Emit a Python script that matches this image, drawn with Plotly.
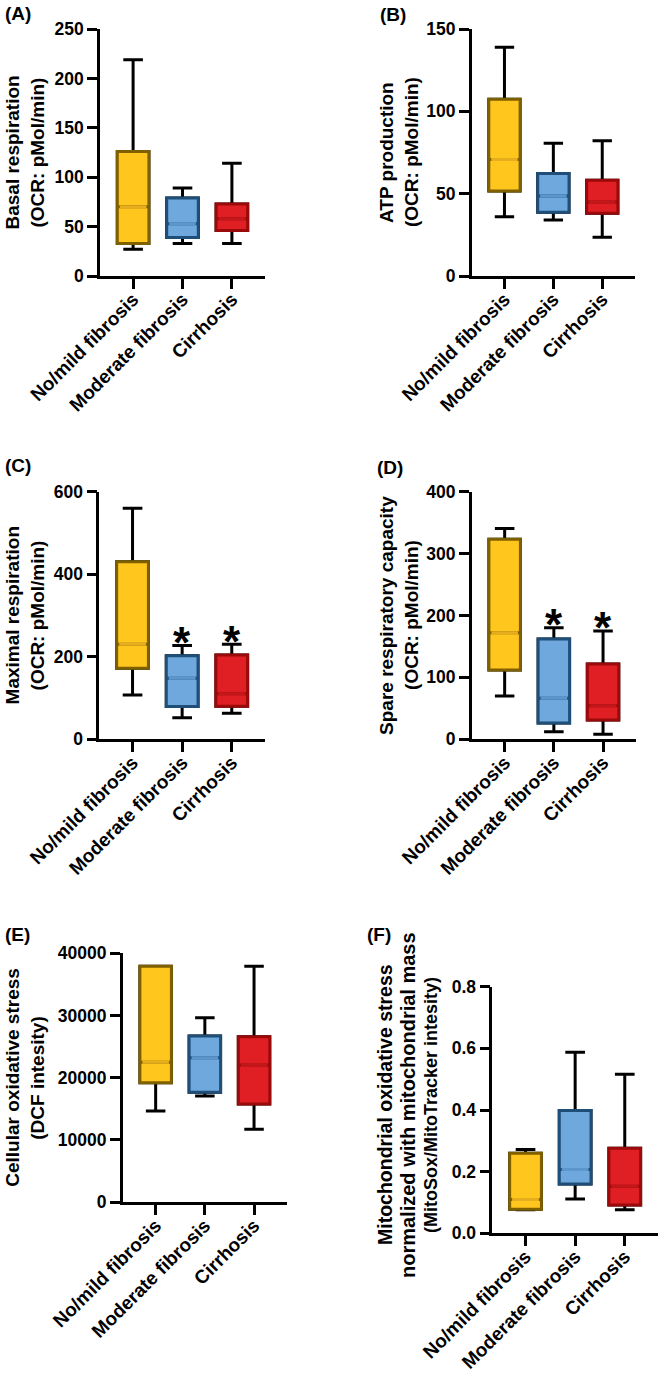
import plotly.graph_objects as go

W, H = 661, 1374

groups = ["No/mild fibrosis", "Moderate fibrosis", "Cirrhosis"]

# (A) Basal respiration
basal_low = [27, 33, 33]
basal_q1 = [33, 39, 46]
basal_med = [70, 53, 58]
basal_q3 = [126, 79, 73]
basal_up = [219, 89, 114]

# (B) ATP production
atp_low = [36, 34, 23.5]
atp_q1 = [51.6, 38.7, 38.1]
atp_med = [70.8, 48.6, 45]
atp_q3 = [107.3, 62.3, 58.1]
atp_up = [138.9, 80.6, 82.2]

# (C) Maximal respiration
max_low = [107, 52, 63]
max_q1 = [172, 79, 80]
max_med = [230, 148, 110]
max_q3 = [430, 202, 204]
max_up = [560, 227, 230]

# (D) Spare respiratory capacity
spare_low = [70, 12, 8]
spare_q1 = [112, 26, 31]
spare_med = [172, 66, 54]
spare_q3 = [323, 162, 121.5]
spare_up = [340.7, 180, 175]

# (E) Cellular oxidative stress
dcf_low = [14660, 17070, 11710]
dcf_q1 = [19210, 17660, 15790]
dcf_med = [22480, 23230, 22050]
dcf_q3 = [37900, 26710, 26600]
dcf_up = [37900, 29650, 37900]

# (F) Mitochondrial oxidative stress
mito_low = [0.076, 0.111, 0.076]
mito_q1 = [0.078, 0.160, 0.092]
mito_med = [0.110, 0.207, 0.153]
mito_q3 = [0.260, 0.398, 0.276]
mito_up = [0.272, 0.587, 0.516]

fills = ["#FFC61E", "#6FA8DC", "#E01F24"]
edges = ["#7F6000", "#1F4E79", "#9A0A0A"]
medcols = ["#E6AE1F", "#5B96CC", "#C3171C"]

BOX_W = 0.64
WHISK_W = 0.62
LW = 3

panels = [
    dict(data=(basal_low, basal_q1, basal_med, basal_q3, basal_up), yr=[0, 250], dtick=50, fmt="d",
         xpx=(100, 265), ypx=(29, 276), label="(A)", lab=(18, 14), tyc=None,
         titles=[("Basal respiration", 12, 19), ("(OCR: pMol/min)", 37, 19)], stars=[]),
    dict(data=(atp_low, atp_q1, atp_med, atp_q3, atp_up), yr=[0, 150], dtick=50, fmt="d",
         xpx=(471.7, 635), ypx=(29, 276), label="(B)", lab=(393, 15), tyc=None,
         titles=[("ATP production", 386.5, 19), ("(OCR: pMol/min)", 411.5, 19)], stars=[]),
    dict(data=(max_low, max_q1, max_med, max_q3, max_up), yr=[0, 600], dtick=200, fmt="d",
         xpx=(99.3, 265), ypx=(491.7, 739.2), label="(C)", lab=(18, 466), tyc=None,
         titles=[("Maximal respiration", 12, 19), ("(OCR: pMol/min)", 37, 19)], stars=[1, 2]),
    dict(data=(spare_low, spare_q1, spare_med, spare_q3, spare_up), yr=[0, 400], dtick=100, fmt="d",
         xpx=(471.7, 636), ypx=(491.7, 739.2), label="(D)", lab=(390, 467), tyc=None,
         titles=[("Spare respiratory capacity", 386.5, 19), ("(OCR: pMol/min)", 411.5, 19)], stars=[1, 2]),
    dict(data=(dcf_low, dcf_q1, dcf_med, dcf_q3, dcf_up), yr=[0, 40000], dtick=10000, fmt="d",
         xpx=(122.7, 287), ypx=(953.3, 1202.2), label="(E)", lab=(17.5, 934), tyc=None,
         titles=[("Cellular oxidative stress", 13, 19), ("(DCF intesity)", 38, 19)], stars=[]),
    dict(data=(mito_low, mito_q1, mito_med, mito_q3, mito_up), yr=[0, 0.8], dtick=0.2, fmt=".1f",
         xpx=(492.3, 658), ypx=(986.7, 1233.3), label="(F)", lab=(378.5, 934), tyc=1105,
         titles=[("Mitochondrial oxidative stress", 385, 19.5),
                 ("normalized with mitochondrial mass", 408, 20),
                 ("(MitoSox/MitoTracker intesity)", 431, 18)], stars=[]),
]

FONT = "Liberation Sans, Arial, sans-serif"

fig = go.Figure()
annotations = []
layout_axes = {}

for i, p in enumerate(panels):
    n = i + 1
    xa = "x" if n == 1 else f"x{n}"
    ya = "y" if n == 1 else f"y{n}"
    low, q1, med, q3, up = p["data"]
    pos = list(range(len(groups)))
    for g in pos:
        # whiskers (black)
        fig.add_trace(go.Box(
            x=[g], q1=[q1[g]], median=[med[g]], q3=[q3[g]],
            lowerfence=[low[g]], upperfence=[up[g]],
            width=BOX_W, whiskerwidth=WHISK_W,
            line=dict(color="black", width=LW), fillcolor="black",
            xaxis=xa, yaxis=ya, showlegend=False, hoverinfo="skip", boxpoints=False))
        # coloured box
        fig.add_trace(go.Box(
            x=[g], q1=[q1[g]], median=[med[g]], q3=[q3[g]],
            lowerfence=[q1[g]], upperfence=[q3[g]],
            width=BOX_W, whiskerwidth=WHISK_W,
            line=dict(color=edges[g], width=LW), fillcolor=fills[g],
            xaxis=xa, yaxis=ya, showlegend=False, hoverinfo="skip", boxpoints=False))
        # median line
        hw = BOX_W / 2 - 0.05
        fig.add_trace(go.Scatter(
            x=[g - hw, g + hw], y=[med[g], med[g]], mode="lines",
            line=dict(color=medcols[g], width=3),
            xaxis=xa, yaxis=ya, showlegend=False, hoverinfo="skip"))

    x0, x1 = p["xpx"]
    y0, y1 = p["ypx"]
    axis_common = dict(showline=True, linecolor="black", linewidth=2.6, ticks="outside",
                       ticklen=10, tickwidth=2.6, tickcolor="black", showgrid=False,
                       zeroline=False, automargin=False)
    layout_axes["xaxis" if n == 1 else f"xaxis{n}"] = dict(
        domain=[x0 / W, x1 / W], anchor=ya, range=[-0.67, 2.67],
        tickmode="array", tickvals=pos, ticktext=groups, tickangle=-45,
        ticklabelstandoff=-8,
        tickfont=dict(family=FONT, size=19, color="black", weight="bold"),
        **axis_common)
    layout_axes["yaxis" if n == 1 else f"yaxis{n}"] = dict(
        domain=[1 - y1 / H, 1 - y0 / H], anchor=xa, range=p["yr"], dtick=p["dtick"],
        tick0=0, tickformat=p["fmt"],
        tickfont=dict(family=FONT, size=17.5, color="black", weight="bold"),
        **axis_common)

    yc = p["tyc"] if p["tyc"] is not None else (y0 + y1) / 2
    for text, tx, fs in p["titles"]:
        annotations.append(dict(
            text=text, xref="paper", yref="paper", x=tx / W, y=1 - yc / H,
            xanchor="center", yanchor="middle", textangle=-90, showarrow=False,
            font=dict(family=FONT, size=fs, color="black", weight="bold")))
    lx, ly = p["lab"]
    annotations.append(dict(
        text=p["label"], xref="paper", yref="paper", x=lx / W, y=1 - ly / H,
        xanchor="center", yanchor="middle", showarrow=False,
        font=dict(family=FONT, size=19, color="black", weight="bold")))
    for g in p["stars"]:
        annotations.append(dict(
            text="*", xref=xa, yref=ya, x=g, y=up[g], xanchor="center", yanchor="middle",
            yshift=3, showarrow=False,
            font=dict(family=FONT, size=44, color="black", weight="bold")))

fig.update_layout(
    width=W, height=H, margin=dict(l=0, r=0, t=0, b=0, autoexpand=False),
    paper_bgcolor="white", plot_bgcolor="white", boxmode="overlay",
    annotations=annotations, **layout_axes)

fig.write_html("out.html", config={"displayModeBar": False},
               post_script="document.body.style.margin='0';document.body.style.overflow='hidden';")
